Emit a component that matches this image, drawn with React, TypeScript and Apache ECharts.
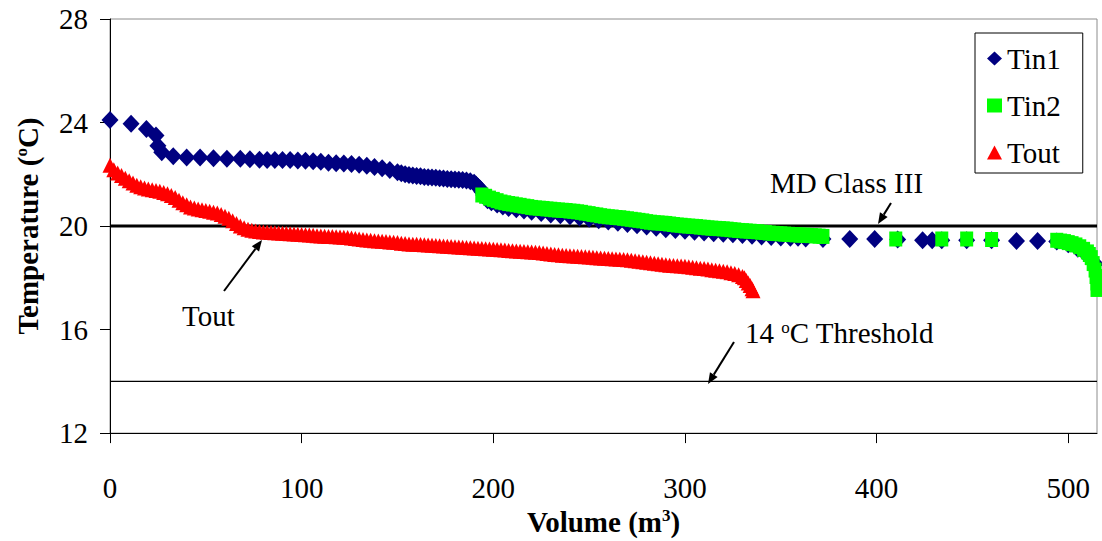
import React, { useEffect, useRef } from "react";
import * as echarts from "echarts";

// Inlet / outlet temperature versus cumulative volume: [volume m3, temperature °C]
const tin1: [number, number][] = [
  [0, 24.1], [11, 23.95], [19, 23.75], [24, 23.5], [25, 23.1], [27, 22.85],
  [33, 22.7], [40, 22.65], [47, 22.65], [54, 22.62], [61, 22.6], [68, 22.6],
  [73, 22.58], [78, 22.56], [82, 22.55], [86, 22.55], [90, 22.55], [94, 22.55],
  [98, 22.53], [102, 22.52], [106, 22.5], [110, 22.48], [114, 22.45], [118, 22.43],
  [122, 22.42], [126, 22.4], [130, 22.37], [134, 22.33], [138, 22.28], [142, 22.23],
  [146, 22.17], [150, 22.08], [152, 22.04], [154, 22.0], [156, 21.97], [158, 21.95],
  [160, 21.93], [162, 21.92], [164, 21.9], [166, 21.89], [168, 21.88], [170, 21.87],
  [172, 21.85], [174, 21.84], [176, 21.82], [178, 21.81], [180, 21.8], [182, 21.79],
  [184, 21.78], [186, 21.76], [188, 21.73], [190, 21.67], [191, 21.6], [192, 21.52],
  [193, 21.45], [194, 21.33], [195, 21.2], [196, 21.1], [197, 21.0], [199, 20.92],
  [202, 20.83], [205, 20.76], [208, 20.7], [212, 20.65], [216, 20.6], [220, 20.55],
  [225, 20.5], [230, 20.45], [235, 20.42], [240, 20.38], [245, 20.33], [250, 20.28],
  [255, 20.22], [260, 20.18], [265, 20.13], [270, 20.08], [275, 20.03], [280, 19.98],
  [285, 19.93], [290, 19.88], [295, 19.85], [300, 19.82], [305, 19.78], [310, 19.75],
  [315, 19.72], [320, 19.7], [325, 19.68], [330, 19.65], [335, 19.63], [340, 19.6],
  [345, 19.58], [350, 19.56], [355, 19.55], [359, 19.55], [363, 19.52], [372, 19.5],
  [386, 19.5], [399, 19.5], [411, 19.48], [424, 19.45], [429, 19.45], [434, 19.45],
  [447, 19.45], [460, 19.45], [473, 19.42], [484, 19.42], [494, 19.4], [500, 19.3],
  [505, 19.12], [510, 18.85], [514, 18.55],
];

const tin2: [number, number][] = [
  [194, 21.2], [196, 21.15], [198, 21.08], [200, 21.03], [202, 20.98], [204, 20.93],
  [206, 20.9], [208, 20.87], [210, 20.85], [212, 20.82], [214, 20.8], [216, 20.77],
  [218, 20.75], [220, 20.72], [222, 20.7], [224, 20.69], [226, 20.68], [228, 20.66],
  [230, 20.65], [232, 20.63], [234, 20.62], [236, 20.61], [238, 20.6], [240, 20.58],
  [242, 20.57], [244, 20.55], [246, 20.53], [248, 20.5], [250, 20.48], [252, 20.45],
  [254, 20.43], [256, 20.4], [258, 20.38], [260, 20.36], [262, 20.35], [264, 20.33],
  [266, 20.32], [268, 20.3], [270, 20.28], [272, 20.26], [274, 20.24], [276, 20.22],
  [278, 20.2], [280, 20.17], [282, 20.15], [284, 20.13], [286, 20.12], [288, 20.11],
  [290, 20.1], [292, 20.08], [294, 20.06], [296, 20.04], [298, 20.03], [300, 20.01],
  [302, 20.0], [304, 19.99], [306, 19.98], [308, 19.96], [310, 19.95], [312, 19.93],
  [314, 19.92], [316, 19.91], [318, 19.9], [320, 19.89], [322, 19.88], [324, 19.86],
  [326, 19.85], [328, 19.83], [330, 19.82], [332, 19.81], [334, 19.8], [336, 19.79],
  [338, 19.78], [340, 19.76], [342, 19.75], [344, 19.73], [346, 19.72], [348, 19.71],
  [350, 19.7], [352, 19.69], [354, 19.68], [356, 19.67], [358, 19.66], [360, 19.65],
  [362, 19.65], [364, 19.64], [366, 19.63], [368, 19.62], [370, 19.61], [372, 19.6],
  [410, 19.5], [434, 19.5], [447, 19.5], [460, 19.48], [494, 19.45], [496, 19.42],
  [498, 19.4], [500, 19.36], [502, 19.32], [504, 19.27], [506, 19.2], [508, 19.1],
  [510, 19.0], [511, 18.9], [512, 18.78], [513, 18.55], [514, 18.3], [514.5, 18.05],
  [515, 17.8], [515, 17.55],
];

const tout: [number, number][] = [
  [0, 22.35], [2, 22.18], [4, 22.05], [6, 21.95], [8, 21.85], [10, 21.75],
  [12, 21.66], [14, 21.58], [16, 21.52], [18, 21.47], [20, 21.43], [22, 21.4],
  [24, 21.37], [26, 21.34], [28, 21.3], [30, 21.25], [32, 21.18], [34, 21.1],
  [36, 21.0], [38, 20.9], [40, 20.82], [42, 20.74], [44, 20.7], [46, 20.66],
  [48, 20.63], [50, 20.6], [52, 20.57], [54, 20.53], [56, 20.5], [58, 20.45],
  [60, 20.38], [62, 20.3], [64, 20.2], [66, 20.1], [68, 20.0], [70, 19.93],
  [72, 19.88], [74, 19.84], [76, 19.81], [78, 19.79], [80, 19.77], [82, 19.76],
  [84, 19.75], [86, 19.74], [88, 19.73], [90, 19.72], [92, 19.71], [94, 19.7],
  [96, 19.69], [98, 19.68], [100, 19.67], [102, 19.66], [104, 19.65], [106, 19.64],
  [108, 19.63], [110, 19.62], [112, 19.61], [114, 19.6], [116, 19.6], [118, 19.59],
  [120, 19.58], [122, 19.57], [124, 19.56], [126, 19.54], [128, 19.52], [130, 19.5],
  [132, 19.48], [134, 19.46], [136, 19.45], [138, 19.43], [140, 19.42], [142, 19.41],
  [144, 19.4], [146, 19.38], [148, 19.37], [150, 19.36], [152, 19.34], [154, 19.33],
  [156, 19.31], [158, 19.3], [160, 19.3], [162, 19.29], [164, 19.28], [166, 19.27],
  [168, 19.26], [170, 19.25], [172, 19.24], [174, 19.23], [176, 19.22], [178, 19.21],
  [180, 19.2], [182, 19.19], [184, 19.18], [186, 19.17], [188, 19.16], [190, 19.15],
  [192, 19.14], [194, 19.13], [196, 19.12], [198, 19.11], [200, 19.1], [202, 19.09],
  [204, 19.08], [206, 19.07], [208, 19.06], [210, 19.05], [212, 19.04], [214, 19.03],
  [216, 19.02], [218, 19.01], [220, 19.0], [222, 18.99], [224, 18.98], [226, 18.96],
  [228, 18.94], [230, 18.92], [232, 18.9], [234, 18.89], [236, 18.87], [238, 18.86],
  [240, 18.85], [242, 18.84], [244, 18.83], [246, 18.82], [248, 18.81], [250, 18.8],
  [252, 18.79], [254, 18.78], [256, 18.77], [258, 18.76], [260, 18.75], [262, 18.74],
  [264, 18.73], [266, 18.72], [268, 18.71], [270, 18.7], [272, 18.68], [274, 18.66],
  [276, 18.64], [278, 18.62], [280, 18.6], [282, 18.58], [284, 18.56], [286, 18.54],
  [288, 18.52], [290, 18.5], [292, 18.49], [294, 18.48], [296, 18.47], [298, 18.46],
  [300, 18.45], [302, 18.43], [304, 18.41], [306, 18.39], [308, 18.37], [310, 18.36],
  [312, 18.34], [314, 18.31], [316, 18.29], [318, 18.27], [320, 18.25], [322, 18.23],
  [324, 18.2], [326, 18.17], [328, 18.12], [330, 18.05], [331, 18.0], [332, 17.9],
  [333, 17.8], [334, 17.7], [335, 17.58], [335.5, 17.5],
];

// Reference limits
const mdClassIII = 20;
const threshold = 14;
const volumeRange = [0, 515];

const xTicks = [0, 100, 200, 300, 400, 500];
const yTicks = [12, 16, 20, 24, 28];

const FONT = "Liberation Serif";

function arrow(x1: number, y1: number, x2: number, y2: number) {
  const dx = x2 - x1;
  const dy = y2 - y1;
  const len = Math.sqrt(dx * dx + dy * dy);
  const ux = dx / len;
  const uy = dy / len;
  const headLen = 11;
  const headHalf = 4.5;
  const bx = x2 - ux * headLen;
  const by = y2 - uy * headLen;
  return [
    {
      type: "line",
      shape: { x1, y1, x2: bx, y2: by },
      style: { stroke: "#000", lineWidth: 2 },
      z: 100,
    },
    {
      type: "polygon",
      shape: {
        points: [
          [x2, y2],
          [bx - uy * headHalf, by + ux * headHalf],
          [bx + uy * headHalf, by - ux * headHalf],
        ],
      },
      style: { fill: "#000" },
      z: 100,
    },
  ];
}

export default function App() {
  const ref = useRef<HTMLDivElement>(null);

  useEffect(() => {
    document.body.style.margin = "0";
    if (!ref.current) return;
    const chart = echarts.init(ref.current, null, { renderer: "svg" });

    const supStyle = {
      fontFamily: FONT,
      fontSize: 17,
      fontWeight: "bold",
      color: "#000",
      verticalAlign: "top",
    };
    const tickRich = { n: { fontFamily: FONT, fontSize: 29, color: "#000" } };

    const option: any = {
      animation: false,
      backgroundColor: "#fff",
      textStyle: { fontFamily: FONT },
      grid: {
        left: 110,
        right: 5,
        top: 19,
        bottom: 106,
        show: true,
        borderColor: "#8c8c8c",
        borderWidth: 1,
      },
      legend: {
        orient: "vertical",
        left: 975,
        top: 33,
        padding: [11, 22, 6, 12],
        itemGap: 18,
        itemWidth: 15,
        itemHeight: 14,
        borderColor: "#000",
        borderWidth: 1,
        data: ["Tin1", "Tin2", "Tout"],
        formatter: (name: string) => `{n|${name}}`,
        textStyle: { fontFamily: FONT, fontSize: 29, color: "#000", rich: tickRich },
      },
      xAxis: {
        type: "value",
        min: volumeRange[0],
        max: volumeRange[1],
        interval: 100,
        splitLine: { show: false },
        axisLine: { lineStyle: { color: "#000", width: 1 } },
        axisTick: { inside: false, length: 10, customValues: xTicks, lineStyle: { color: "#000" } },
        axisLabel: {
          customValues: xTicks,
          formatter: (v: number) => `{n|${v}}`,
          rich: tickRich,
          fontFamily: FONT,
          fontSize: 29,
          color: "#000",
          margin: 40,
        },
        name: "Volume (m{sup|3})",
        nameLocation: "middle",
        nameGap: 66,
        nameTextStyle: {
          fontFamily: FONT,
          fontSize: 29,
          fontWeight: "bold",
          color: "#000",
          rich: { sup: supStyle },
        },
      },
      yAxis: {
        type: "value",
        min: 12,
        max: 28,
        interval: 4,
        splitLine: { show: false },
        axisLine: { show: true, lineStyle: { color: "#000", width: 1 } },
        axisTick: { show: true, inside: false, length: 10, customValues: yTicks, lineStyle: { color: "#000" } },
        axisLabel: {
          customValues: yTicks,
          formatter: (v: number) => `{n|${v}}`,
          rich: tickRich,
          fontFamily: FONT,
          fontSize: 29,
          color: "#000",
          margin: 22,
        },
        name: "Temperature ({sup|o}C)",
        nameLocation: "middle",
        nameRotate: 90,
        nameGap: 68,
        nameTextStyle: {
          fontFamily: FONT,
          fontSize: 29,
          fontWeight: "bold",
          color: "#000",
          rich: { sup: supStyle },
        },
      },
      series: [
        {
          name: "MD Class III",
          type: "line",
          data: [[volumeRange[0], mdClassIII], [volumeRange[1], mdClassIII]],
          symbol: "none",
          silent: true,
          lineStyle: { color: "#000", width: 3 },
          z: 1,
        },
        {
          name: "14 °C Threshold",
          type: "line",
          data: [[volumeRange[0], threshold], [volumeRange[1], threshold]],
          symbol: "none",
          silent: true,
          lineStyle: { color: "#000", width: 1.1 },
          z: 1,
        },
        {
          name: "Tin1",
          type: "scatter",
          data: tin1,
          symbol: "diamond",
          symbolSize: [17, 18],
          itemStyle: { color: "#000080", opacity: 1 },
          z: 2,
        },
        {
          name: "Tin2",
          type: "scatter",
          data: tin2,
          symbol: "rect",
          symbolSize: [13, 15],
          itemStyle: { color: "#00ff00", opacity: 1 },
          z: 3,
        },
        {
          name: "Tout",
          type: "scatter",
          data: tout,
          symbol: "triangle",
          symbolSize: [15, 15],
          itemStyle: { color: "#ff0000", opacity: 1 },
          z: 4,
        },
      ],
      graphic: [
        {
          type: "text",
          x: 770,
          y: 183,
          style: {
            text: "MD Class III",
            fontFamily: FONT,
            fontSize: 29,
            fill: "#000",
            verticalAlign: "middle",
          },
          z: 100,
        },
        ...arrow(891, 203, 878, 224),
        {
          type: "text",
          x: 745,
          y: 333,
          style: {
            text: "14 {sup|o}C Threshold",
            fontFamily: FONT,
            fontSize: 29,
            fill: "#000",
            verticalAlign: "middle",
            rich: {
              sup: { fontFamily: FONT, fontSize: 17, fill: "#000", verticalAlign: "top" },
            },
          },
          z: 100,
        },
        ...arrow(734, 342, 708, 384),
        {
          type: "text",
          x: 182,
          y: 316,
          style: {
            text: "Tout",
            fontFamily: FONT,
            fontSize: 29,
            fill: "#000",
            verticalAlign: "middle",
          },
          z: 100,
        },
        ...arrow(224, 291, 262, 240),
      ],
    };

    chart.setOption(option);
    return () => chart.dispose();
  }, []);

  return <div ref={ref} style={{ width: 1102, height: 541 }} />;
}
